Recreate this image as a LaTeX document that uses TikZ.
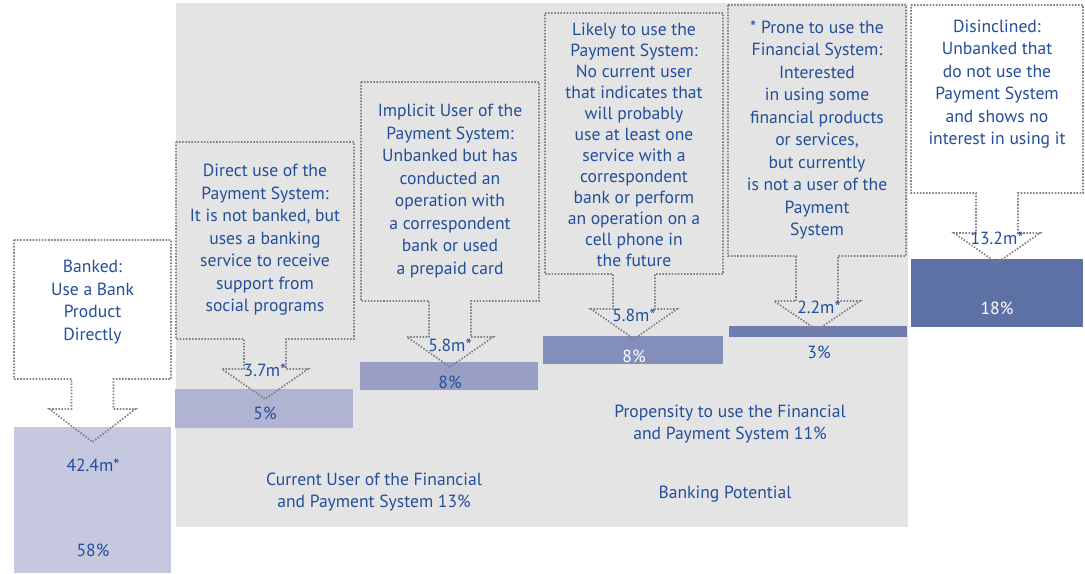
\documentclass[tikz,border=0pt]{standalone}
\usepackage{fontspec}
\setmainfont{PT Sans}
\usepackage{tikz}
\usetikzlibrary{math}
\definecolor{bgray}{RGB}{228, 228, 228}
\definecolor{dotgray}{RGB}{130, 130, 130}
\definecolor{txtblue}{RGB}{35, 78, 155}
\definecolor{barA}{RGB}{197, 200, 222}
\definecolor{barB}{RGB}{176, 180, 210}
\definecolor{barC}{RGB}{152, 158, 196}
\definecolor{barD}{RGB}{132, 142, 186}
\definecolor{barE}{RGB}{112, 124, 174}
\definecolor{barF}{RGB}{94, 113, 165}

\tikzset{
  callout/.style={dotgray, line width=1.2pt, dash pattern=on 1.1pt off 1.1pt},
  txt/.style={text=txtblue, align=center, inner sep=0pt, font=\fontsize{12.5}{16}\selectfont},
  wtxt/.style={txt, text=white}
}

% left / right / top / bottom / head / tip / fill
\def\callouts{14/171/240/379/409/442/white, 176/354/142/339/369/399/bgray,
  361/539/82/301/337/367/bgray, 545/723/13/274/309/339/bgray,
  728/906/5/256/301/330/bgray, 911/1083/5/193/233/263/white}

\begin{document}
\begin{tikzpicture}[x=0.025cm, y=-0.025cm]
  \useasboundingbox (0, 0) rectangle (1085, 573);
  \fill[bgray] (176, 3) rectangle (908, 527);

  \foreach \l/\r/\t/\b/\h/\p/\f in \callouts {
    \pgfmathsetmacro{\c}{(\l + \r) / 2};
    \path[fill=\f] (\l, \t) -- (\r, \t) -- (\r, \b) -- (\c + 21, \b) -- (\c + 21, \h) -- (\c + 43, \h)
      -- (\c, \p) -- (\c - 43, \h) -- (\c - 21, \h) -- (\c - 21, \b) -- (\l, \b) -- cycle;
  }

  \fill[barA] (14, 427) rectangle (171, 573);
  \fill[barB] (175, 389) rectangle (353, 428);
  \fill[barC] (360, 362) rectangle (538, 390);
  \fill[barD] (543, 336) rectangle (723, 364);
  \fill[barE] (729, 326) rectangle (907, 337);
  \fill[barF] (911, 259) rectangle (1083, 327);

  \foreach \l/\r/\t/\b/\h/\p/\f in \callouts {
    \pgfmathsetmacro{\c}{(\l + \r) / 2};
    \draw[callout] (\l, \t) -- (\r, \t) -- (\r, \b) -- (\c + 21, \b) -- (\c + 21, \h) -- (\c + 43, \h)
      -- (\c, \p) -- (\c - 43, \h) -- (\c - 21, \h) -- (\c - 21, \b) -- (\l, \b) -- cycle;
  }

  \node[txt] (banked) at (92.5, 302) {Banked:\\Use a Bank\\Product\\Directly};
  \node[txt] (direct) at (265, 240) {Direct use of the\\Payment System:\\It is not banked, but\\uses a banking\\service to receive\\support from\\social programs};
  \node[txt] (implicit) at (450, 191) {Implicit User of the\\Payment System:\\Unbanked but has\\conducted an\\operation with\\a correspondent\\bank or used\\a prepaid card};
  \node[txt, font=\fontsize{12.5}{14.9}\selectfont] (likely) at (634, 145) {Likely to use the\\Payment System:\\No current user\\that indicates that\\will probably\\use at least one\\service with a\\correspondent\\bank or perform\\an operation on a\\cell phone in\\the future};
  \node[txt] (prone) at (817, 130) {* Prone to use the\\Financial System:\\Interested\\in using some\\financial products\\or services,\\but currently\\is not a user of the\\Payment\\System};
  \node[txt] (disincl) at (997, 84) {Disinclined:\\Unbanked that\\do not use the\\Payment System\\and shows no\\interest in using it};

  \node[txt] (mA) at (93, 465) {42.4m*};
  \node[txt] (pA) at (93, 550) {58\%};
  \node[txt] (mB) at (265, 370) {3.7m*};
  \node[txt] (pB) at (265, 413) {5\%};
  \node[txt] (mC) at (450, 345) {5.8m*};
  \node[txt] (pC) at (450, 382) {8\%};
  \node[txt] (mD) at (634, 315) {5.8m*};
  \node[wtxt] (pD) at (634, 356) {8\%};
  \node[txt] (mE) at (819, 307) {2.2m*};
  \node[txt] (pE) at (819, 352) {3\%};
  \node[txt] (mF) at (997, 238) {13.2m*};
  \node[wtxt] (pF) at (997, 308) {18\%};

  \node[txt] (current) at (374, 492) {Current User of the Financial\\and Payment System 13\%};
  \node[txt] (propens) at (730, 424) {Propensity to use the Financial\\and Payment System 11\%};
  \node[txt] (potential) at (725, 494) {Banking Potential};
\end{tikzpicture}
\end{document}
